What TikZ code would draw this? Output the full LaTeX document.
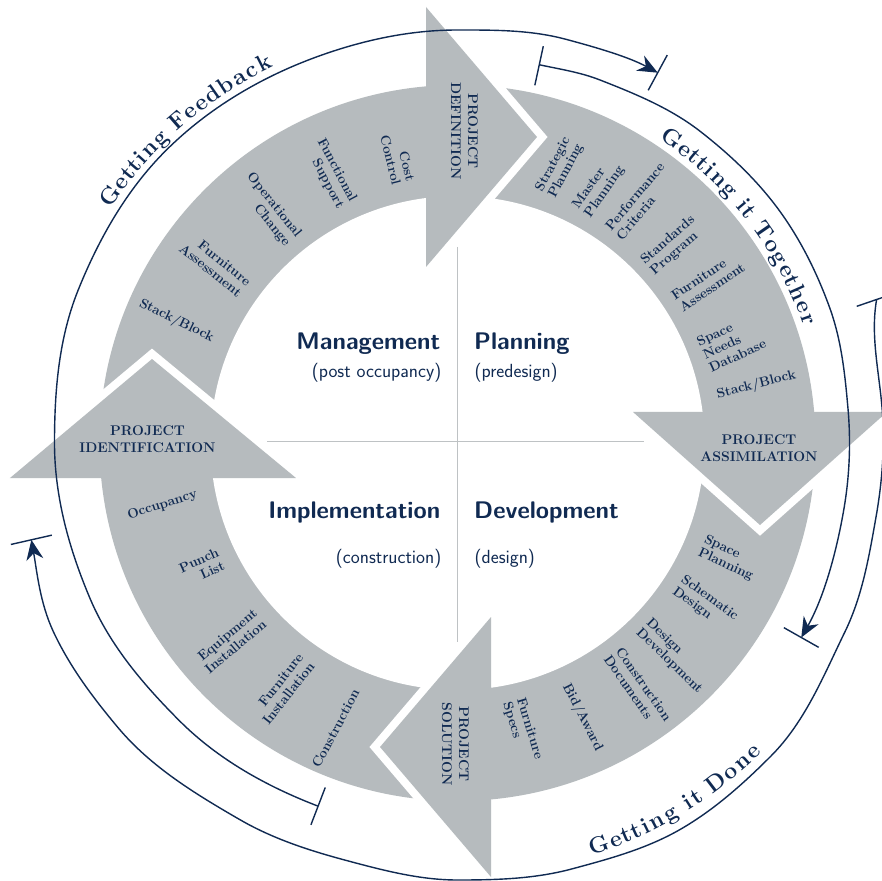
\documentclass[tikz,border=0pt]{standalone}
\usetikzlibrary{arrows.meta}

\definecolor{inkblue}{RGB}{16,42,82}
\definecolor{bandgrey}{RGB}{182,187,190}
\definecolor{axisgrey}{RGB}{190,194,196}

\newcommand{\ringtaskfont}{\fontsize{13.5}{14.5}\selectfont\bfseries}
\newcommand{\ringphasefont}{\fontsize{14}{17}\selectfont\bfseries}
\newcommand{\ringstagefont}{\sffamily\bfseries\fontsize{24}{28}\selectfont}
\newcommand{\ringasidefont}{\sffamily\fontsize{19}{22}\selectfont}
\newcommand{\ringarcfont}{\fontsize{23}{23}\selectfont\bfseries}
\newcommand{\linesout}[1]{\begin{tabular}{@{}l@{}}#1\end{tabular}}
\newcommand{\linesin}[1]{\begin{tabular}{@{}r@{}}#1\end{tabular}}
\newcommand{\linesmid}[1]{\begin{tabular}{@{}c@{}}#1\end{tabular}}

\tikzset{
    ringfill/.style={fill=bandgrey},
    whitegap/.style={draw=white, line width=16pt},
    tasklabel/.style={font=\ringtaskfont, text=inkblue, inner sep=0pt},
    phaselabel/.style={font=\ringphasefont, text=inkblue, inner sep=0pt},
    stagelabel/.style={font=\ringstagefont, text=inkblue, inner sep=0pt},
    asidelabel/.style={font=\ringasidefont, text=inkblue, inner sep=0pt},
    loopline/.style={draw=inkblue, line width=1.4pt, looseness=0.86},
    loophead/.style={-{Stealth[length=20pt, width=17pt]}},
    arcletter/.style={font=\ringarcfont, text=inkblue, inner sep=0pt, anchor=base}
}

\begin{document}
\begin{tikzpicture}[x=1pt, y=1pt]
    \fill[white] (-457.5,-437) rectangle (424.5,443);
    \begin{scope}[overlay]
    % First the grey ring
    \fill[ringfill] (0,0) circle[radius=358];
    \fill[white] (0,0) circle[radius=247];
    % Arrow heads, each cut off from the next band by a white gap
    \coordinate (def1) at (-31.5,436);
    \coordinate (def2) at (79.5,306);
    \coordinate (def3) at (-31.5,176);
    \coordinate (asm1) at (429.5,31);
    \coordinate (asm2) at (302.5,-82);
    \coordinate (asm3) at (175.5,31);
    \coordinate (sol1) at (33.5,-434);
    \coordinate (sol2) at (-77.5,-304);
    \coordinate (sol3) at (33.5,-174);
    \coordinate (idn1) at (-447.5,-35);
    \coordinate (idn2) at (-305.5,84);
    \coordinate (idn3) at (-161.5,-35);
    \draw[whitegap] (def1) -- (def2) -- (def3);
    \fill[ringfill] (def1) -- (def2) -- (def3) -- cycle;
    \draw[whitegap] (asm1) -- (asm2) -- (asm3);
    \fill[ringfill] (asm1) -- (asm2) -- (asm3) -- cycle;
    \draw[whitegap] (sol1) -- (sol2) -- (sol3);
    \fill[ringfill] (sol1) -- (sol2) -- (sol3) -- cycle;
    \draw[whitegap] (idn1) -- (idn2) -- (idn3);
    \fill[ringfill] (idn1) -- (idn2) -- (idn3) -- cycle;
    % Cross in the middle
    \draw[axisgrey, line width=1.5pt] (0,196) -- (0,-199);
    \draw[axisgrey, line width=1.5pt] (-190,1.5) -- (186,1.5);
    \node[stagelabel, anchor=base east] (mgmt) at (-17,93) {Management};
    \node[asidelabel, anchor=base east] (mgmtnote) at (-16,65) {(post occupancy)};
    \node[stagelabel, anchor=base west] (plan) at (16.5,93) {Planning};
    \node[asidelabel, anchor=base west] (plannote) at (17,65) {(predesign)};
    \node[stagelabel, anchor=base east] (impl) at (-17,-75) {Implementation};
    \node[asidelabel, anchor=base east] (implnote) at (-16,-120) {(construction)};
    \node[stagelabel, anchor=base west] (dev) at (16.5,-75) {Development};
    \node[asidelabel, anchor=base west] (devnote) at (17,-120) {(design)};
    % Project steps in the heads
    \node[phaselabel, rotate=-90] (pdef) at (5.5,312) {\linesmid{PROJECT\\DEFINITION}};
    \node[phaselabel] (pasm) at (301.5,-7) {\linesmid{PROJECT\\ASSIMILATION}};
    \node[phaselabel, rotate=-90] (psol) at (-3.5,-301) {\linesmid{PROJECT\\SOLUTION}};
    \node[phaselabel] (pidn) at (-310,2.5) {\linesmid{PROJECT\\IDENTIFICATION}};
    % Tasks on the right half read outwards
    \node[tasklabel, rotate=62] (strat) at (102.5,275) {\linesout{Strategic\\Planning}};
    \node[tasklabel, rotate=55] (mastr) at (141.5,255) {\linesout{Master\\Planning}};
    \node[tasklabel, rotate=50] (perf) at (184,240.5) {\linesout{Performance\\Criteria}};
    \node[tasklabel, rotate=41] (stnd) at (215.5,197) {\linesout{Standards\\Program}};
    \node[tasklabel, rotate=34] (pfurn) at (251.5,160) {\linesout{Furniture\\Assessment}};
    \node[tasklabel, rotate=25] (needs) at (274.5,99) {\linesout{Space\\Needs\\Database}};
    \node[tasklabel, rotate=14] (pstack) at (299,58) {Stack/Block};
    \node[tasklabel, rotate=-25] (spplan) at (271,-115.5) {\linesout{Space\\Planning}};
    \node[tasklabel, rotate=-36] (schem) at (247.5,-161.5) {\linesout{Schematic\\Design}};
    \node[tasklabel, rotate=-44] (desdev) at (216.5,-213.5) {\linesout{Design\\Development}};
    \node[tasklabel, rotate=-55] (cdocs) at (179,-246) {\linesout{Construction\\Documents}};
    \node[tasklabel, rotate=-63] (bid) at (125,-274.5) {Bid/Award};
    \node[tasklabel, rotate=-73] (specs) at (64.5,-288) {\linesout{Furniture\\Specs}};
    % Tasks on the left half read inwards
    \node[tasklabel, rotate=-26] (mstack) at (-281,122) {Stack/Block};
    \node[tasklabel, rotate=-39] (mfurn) at (-243.5,177) {\linesin{Furniture\\Assessment}};
    \node[tasklabel, rotate=-51] (oper) at (-189.5,233) {\linesin{Operational\\Change}};
    \node[tasklabel, rotate=-62] (funct) at (-127.5,269) {\linesin{Functional\\Support}};
    \node[tasklabel, rotate=-76] (costc) at (-61.5,284) {\linesin{Cost\\Control}};
    \node[tasklabel, rotate=62] (constr) at (-122,-285.5) {Construction};
    \node[tasklabel, rotate=52] (finst) at (-173.5,-247) {\linesin{Furniture\\Installation}};
    \node[tasklabel, rotate=40] (einst) at (-225.5,-199.5) {\linesin{Equipment\\Installation}};
    \node[tasklabel, rotate=24] (punch) at (-255,-125.5) {\linesin{Punch\\List}};
    \node[tasklabel, rotate=18] (occ) at (-295,-62) {Occupancy};
    % Loops round the ring, with a bar at each end
    \draw[loopline, loophead] (249:389) to[out=159, in=-45] (225:393) to[out=135, in=-67] (203:399)
        to[out=113, in=-90] (180:403) to[out=90, in=-112] (158:409) to[out=68, in=-135] (135:413)
        to[out=45, in=-160] (110:411) to[out=20, in=180] (90:413) to[out=0, in=165] (75:418)
        to[out=-15, in=151.6] (61.6:421);
    \draw[loopline] (249:369) -- (249:409);
    \draw[loopline] (61.6:401) -- (61.6:441);
    \draw[loopline, loophead] (77.8:387) to[out=-12.2, in=158.6] (68.6:390) to[out=-21.4, in=142]
        (52:395) to[out=-38, in=125] (35:397) to[out=-55, in=110] (20:396) to[out=-70, in=95]
        (5:392) to[out=-85, in=80] (-10:392) to[out=-100, in=60.5] (-29.5:395);
    \draw[loopline] (77.8:366) -- (77.8:406);
    \draw[loopline] (-29.5:375) -- (-29.5:415);
    \draw[loopline, loophead] (18.9:443) to[out=-100, in=95] (5:426) to[out=-85, in=80] (-10:425)
        to[out=-100, in=64] (-26:431) to[out=-116, in=45] (-45:443) to[out=-135, in=30] (-60:446)
        to[out=-150, in=15] (-75:441) to[out=-165, in=0] (-90:437) to[out=180, in=-15] (-105:432)
        to[out=165, in=-30] (-120:435) to[out=150, in=-50] (-140:443) to[out=130, in=-65]
        (-155:446) to[out=115, in=-80] (-167.2:437);
    \draw[loopline] (18.9:422) -- (18.9:464);
    \draw[loopline] (-167.2:416) -- (-167.2:458);
    % Loop names, one letter at a time along the arcs
    \foreach \ang/\ch [count=\k] in {144.62/G, 142.24/e, 140.66/t, 139.27/t, 137.98/i, 136.30/n,
        134.22/g, 130.95/F, 128.87/e, 127.09/e, 125.11/d, 122.93/b, 120.85/a, 118.97/c, 116.99/k}
        \node[arcletter, rotate=\ang-90] (fb\k) at (\ang:419) {\ch};
    \foreach \ang/\ch [count=\k] in {54.91/G, 52.17/e, 50.34/t, 48.73/t, 47.24/i, 45.29/n,
        42.89/g, 39.78/i, 38.29/t, 34.73/T, 32.10/o, 29.82/g, 27.64/e, 25.81/t, 23.75/h,
        21.46/e, 19.40/r}
        \node[arcletter, rotate=\ang-90] (tg\k) at (\ang:365) {\ch};
    \foreach \ang/\ch [count=\k] in {-70.66/G, -68.28/e, -66.66/t, -65.24/t, -63.90/i, -62.18/n,
        -60.09/g, -57.32/i, -55.99/t, -52.75/D, -50.37/o, -48.27/n, -46.27/e}
        \node[arcletter, rotate=\ang+90] (dn\k) at (\ang:434) {\ch};
    \end{scope}
\end{tikzpicture}
\end{document}
